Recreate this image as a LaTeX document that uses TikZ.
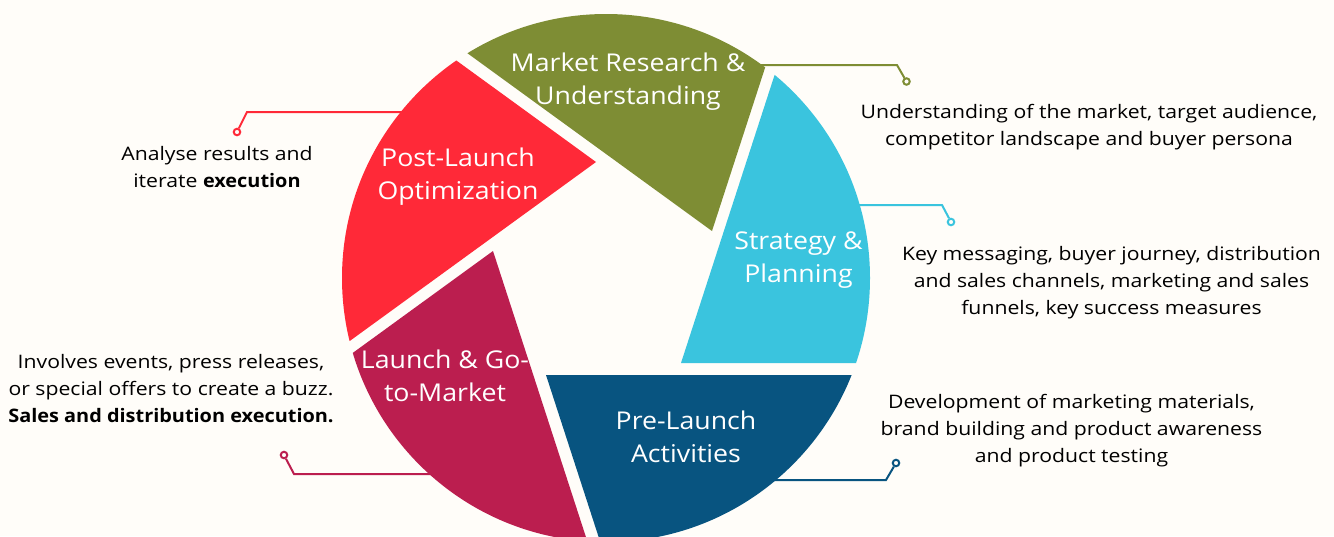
\documentclass[tikz,border=0pt]{standalone}
\usepackage{fontspec}
\setmainfont{Open Sans}
\newfontfamily\titlefont{Open Sans}[FakeStretch=1.09]
\newfontfamily\notefont{Open Sans}[FakeStretch=1.14,BoldFeatures={FakeStretch=1.07}]
\definecolor{paper}{RGB}{255,253,249}
\definecolor{cOlive}{RGB}{126,141,52}
\definecolor{cSky}{RGB}{58,196,222}
\definecolor{cNavy}{RGB}{8,84,128}
\definecolor{cCrimson}{RGB}{187,30,79}
\definecolor{cScarlet}{RGB}{255,41,56}
\begin{document}
\begin{tikzpicture}[x=1pt,y=-1pt,
  bladelabel/.style={text=white,font=\titlefont\fontsize{24.5}{33}\selectfont,align=center,inner sep=0pt,anchor=base},
  note/.style={text=black,font=\notefont\fontsize{18.6}{27.3}\selectfont,align=center,inner sep=0pt,anchor=base},
  leader/.style={line width=2pt},
  pin/.style={circle,draw=#1,line width=2pt,fill=paper,inner sep=0pt,minimum size=6.5pt}]
\useasboundingbox (0,0) rectangle (1334,536);
\fill[paper] (0,0) rectangle (1334,536);

% leader lines with their end pins (drawn first, the blades cover their inner ends)
\coordinate (gStart) at (740,65);  \coordinate (gBend) at (897,65);
\node[pin=cOlive] (gPin) at (906.5,81.5) {};
\coordinate (sStart) at (845,205); \coordinate (sBend) at (942,205);
\node[pin=cSky] (sPin) at (951,222) {};
\coordinate (nStart) at (760,480); \coordinate (nBend) at (886,480);
\node[pin=cNavy] (nPin) at (896,463) {};
\coordinate (lStart) at (440,474); \coordinate (lBend) at (294,474);
\node[pin=cCrimson] (lPin) at (284,455) {};
\coordinate (pStart) at (410,112); \coordinate (pBend) at (247,112);
\node[pin=cScarlet] (pPin) at (237,132) {};
\draw[leader,cOlive] (gStart) -- (gBend) -- (gPin);
\draw[leader,cSky] (sStart) -- (sBend) -- (sPin);
\draw[leader,cNavy] (nStart) -- (nBend) -- (nPin);
\draw[leader,cCrimson] (lStart) -- (lBend) -- (lPin);
\draw[leader,cScarlet] (pStart) -- (pBend) -- (pPin);

% aperture blades: wedges with 72 degree tips, clipped by the disc
\begin{scope}
  \clip (606,278) circle[radius=264pt];
  \fill[cOlive]   (712,231) -- (-97,-357) -- (1021,-720) -- cycle;
  \fill[cSky]     (681,363) -- (990,-588) -- (1681,363) -- cycle;
  \fill[cNavy]    (546,375) -- (1546,375) -- (855,1326) -- cycle;
  \fill[cCrimson] (493,251) -- (802,1202) -- (-316,839) -- cycle;
  \fill[cScarlet] (596,162) -- (-213,750) -- (-213,-426) -- cycle;
\end{scope}

% blade titles (anchored at the baseline of their last line)
\node[bladelabel] (tMarket)   at (628,104)   {Market Research \&\\Understanding};
\node[bladelabel] (tStrategy) at (798.5,282) {Strategy \&\\Planning};
\node[bladelabel] (tPre)      at (686,462)   {Pre-Launch\\Activities};
\node[bladelabel] (tLaunch)   at (445,401.5) {Launch \& Go-\\to-Market};
\node[bladelabel] (tPost)     at (458,199.3) {Post-Launch\\Optimization};

% descriptions
\node[note] (dMarket) at (1089,145.3)
  {Understanding of the market, target audience,\\competitor landscape and buyer persona};
\node[note] (dStrategy) at (1111.5,314.6)
  {Key messaging, buyer journey, distribution\\and sales channels, marketing and sales\\funnels, key success measures};
\node[note] (dPre) at (1071.5,462.6)
  {Development of marketing materials,\\brand building and product awareness\\and product testing};
\node[note] (dPost) at (217,187.3)
  {Analyse results and\\iterate \textbf{execution}};
\node[note] (dLaunch) at (171,422.6)
  {Involves events, press releases,\\or special offers to create a buzz.\\\textbf{Sales and distribution execution.}};
\end{tikzpicture}
\end{document}
